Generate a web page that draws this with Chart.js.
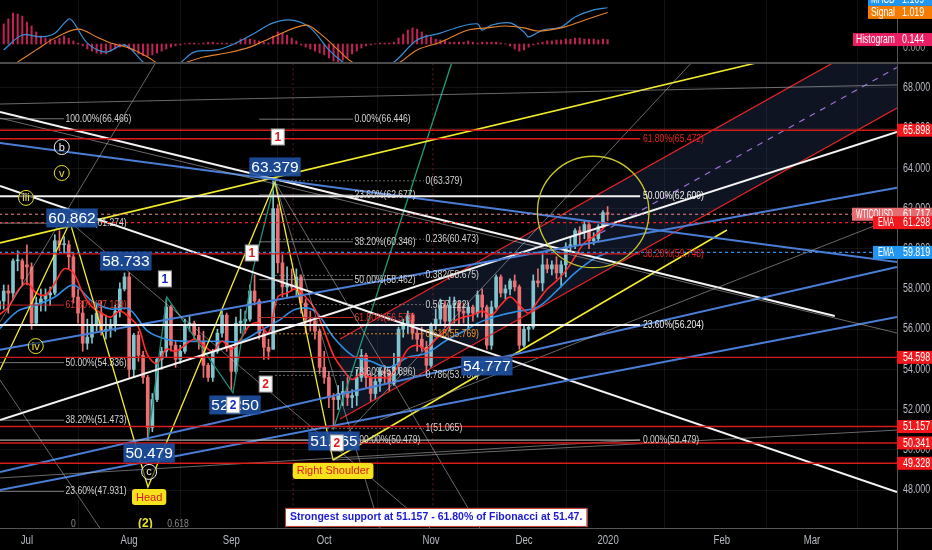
<!DOCTYPE html>
<html>
<head>
<meta charset="utf-8">
<script src="https://cdn.jsdelivr.net/npm/chart.js@4.4.1/dist/chart.umd.min.js"></script>
<style>
html,body{margin:0;padding:0;background:#000;}
#wrap{position:relative;width:932px;height:550px;overflow:hidden;background:#000;}
#macdBox{position:absolute;left:0;top:0;width:932px;height:62px;}
#mainBox{position:absolute;left:0;top:62px;width:932px;height:488px;}
</style>
</head>
<body>
<div id="wrap">
  <div id="macdBox"><canvas id="macd"></canvas></div>
  <div id="mainBox"><canvas id="main"></canvas></div>
</div>
<script>
// ---- data (bar index 0 = 1 Jul 2019, trading days) ----
const firstBar = -6;
const opens  = [57.0,57.4,57.9,57.8,59.4,59.4, 59.2,59.1,56.3,57.3,57.5,57.7,57.8,60.4,60.2,60.2,59.6,57.6,56.8,55.3,55.6,56.2,56.8,55.9,56.0,56.2,56.9,58.0,
  58.6,54.0,55.7,54.7,53.6,51.1,52.5,54.5,54.9,57.1,55.2,54.5,54.9,56.2,56.3,55.7,55.4,54.2,53.6,54.9,55.8,56.7,
  55.1,53.9,56.3,56.4,56.5,57.9,57.4,55.8,55.1,55.0,62.0,59.3,58.1,58.2,58.1,58.6,57.3,56.5,56.4,55.9,
  54.1,53.6,52.6,52.5,52.8,52.9,52.6,52.7,53.6,54.7,53.6,52.8,53.4,53.9,53.8,53.3,54.2,56.0,56.2,56.7,55.8,55.5,55.1,
  54.2,56.2,56.5,57.2,56.4,57.2,57.3,56.9,56.8,57.1,56.8,57.7,57.1,55.2,57.1,58.6,57.8,58.0,58.4,58.1,
  55.2,56.0,56.1,58.4,58.3,59.2,59.0,59.2,58.8,59.2,60.1,60.2,60.9,60.8,61.2,60.4,60.5,61.1,61.8];
const highs  = [57.8,58.2,58.2,59.5,59.9,59.5, 60.2,59.3,57.6,58.0,58.0,58.1,60.7,60.9,60.6,60.4,59.8,58.0,57.4,56.5,56.7,57.3,57.4,56.7,56.5,57.2,58.3,58.8,
  58.8,55.8,55.9,54.9,53.7,52.8,54.6,55.1,57.5,57.2,55.4,55.2,56.5,56.7,56.4,56.1,55.9,54.3,55.0,56.0,56.9,56.8,
  55.2,56.6,57.0,56.9,58.2,58.7,57.5,56.0,55.5,63.379,62.2,59.7,59.1,59.0,59.0,58.7,57.5,56.9,56.6,56.0,
  54.9,53.9,52.8,53.2,53.4,53.6,53.0,54.0,55.0,54.8,53.8,53.7,54.1,54.2,54.0,54.8,56.1,56.5,56.9,56.8,56.0,56.1,55.4,
  56.3,57.0,57.5,57.4,57.6,57.6,57.4,57.3,57.3,57.2,57.9,58.0,57.2,57.4,58.7,58.7,58.2,58.5,58.7,58.2,
  56.2,56.2,58.7,59.0,59.8,59.5,59.4,59.6,59.4,60.3,60.6,61.0,61.1,61.4,61.4,60.8,61.2,61.9,62.1];
const lows   = [56.6,57.0,56.8,57.5,58.9,58.2, 58.2,56.0,56.2,56.9,56.9,57.2,57.7,59.9,59.8,59.0,57.3,56.3,54.9,55.0,55.3,55.9,55.7,55.5,55.6,55.9,56.6,57.9,
  53.6,53.6,54.4,53.3,50.48,50.9,52.4,54.0,54.6,54.9,54.1,54.3,54.8,55.9,55.5,55.0,53.6,53.4,53.4,54.8,55.6,54.9,
  53.0,53.8,55.8,55.8,56.4,57.2,55.5,54.5,54.5,55.0,58.8,57.6,57.6,57.9,57.6,56.8,55.8,55.9,55.5,53.8,
  53.3,52.1,51.065,52.0,52.2,52.2,52.1,52.2,53.4,53.1,52.4,52.5,52.9,53.3,52.9,53.2,53.8,55.6,55.8,55.5,54.9,54.9,53.7,
  54.1,56.0,56.2,56.1,55.9,56.3,56.2,56.3,56.0,56.4,56.6,56.6,55.0,55.0,57.0,57.6,57.5,57.7,57.9,55.0,
  55.1,55.4,56.0,58.1,57.9,58.8,58.7,58.5,58.1,58.6,59.9,60.0,60.2,60.5,60.0,60.2,60.4,61.0,61.4];
const closes = [57.4,57.9,57.8,59.4,59.4,58.5, 59.1,56.3,57.3,57.5,57.7,57.8,60.4,60.2,60.25,59.6,57.6,56.8,55.3,55.6,56.2,56.8,55.9,56.0,56.2,56.9,58.0,58.6,
  54.0,55.7,54.7,53.6,51.1,52.5,54.5,54.9,57.1,55.2,54.5,54.9,56.2,56.3,55.7,55.4,54.2,53.6,54.9,55.8,56.7,55.1,
  53.9,56.3,56.4,56.5,57.9,57.4,55.8,55.1,54.9,62.0,59.3,58.1,58.2,58.1,58.6,57.3,56.5,56.4,55.9,54.1,
  53.6,52.6,52.5,52.8,52.9,52.6,52.7,53.6,54.7,53.6,52.8,53.4,53.9,53.8,53.3,54.2,56.0,56.2,56.7,55.8,55.5,55.1,54.2,
  56.2,56.5,57.2,56.4,57.2,57.3,56.9,56.8,57.1,56.8,57.7,57.1,55.2,57.1,58.6,57.8,58.0,58.4,58.1,55.2,
  56.0,56.1,58.4,58.3,59.2,59.0,59.2,58.8,59.2,60.1,60.2,60.9,60.8,61.2,60.4,60.5,61.1,61.8,61.717];

const emaFastX = [-6,-4,-2,0,2,4,6,8,10,12,14,16,18,20,22,24,26,28,30,32,34,36,38,40,42,44,46,48,50,52,54,56,58,60,62,64,66,68,70,72,74,76,78,80,82,84,86,88,90,92,94,96,98,100,102,104,106,108,110,112,114,116,118,120,122,124,125];
const emaFastY = [56.7,57.1,57.9,58.3,57.8,57.7,58.3,59.0,58.8,57.8,57.1,56.8,56.6,56.9,56.6,56.1,54.7,54.3,55.0,54.9,55.2,55.5,55.2,54.9,55.4,55.0,55.5,56.2,56.3,55.8,57.6,57.8,58.0,57.6,57.0,55.9,54.7,54.0,53.5,53.8,53.6,53.6,53.6,54.2,55.0,55.2,55.0,55.5,55.9,56.4,56.6,56.7,56.9,56.7,57.2,57.6,57.2,56.8,57.4,58.0,58.4,58.9,59.6,60.3,60.6,61.0,61.298];
const emaSlowX = [-6,-2,2,6,10,14,18,22,26,30,34,38,42,46,50,54,58,62,66,70,74,78,82,86,90,94,98,102,106,110,114,118,122,125];
const emaSlowY = [56.0,56.9,57.2,57.6,58.2,57.4,57.0,57.0,55.9,55.5,55.4,55.4,55.4,55.4,55.9,56.4,57.0,56.9,55.6,54.7,54.4,54.1,54.6,54.8,55.4,55.9,56.4,56.7,56.9,57.1,57.9,58.8,59.5,59.819];

const macdHist = [0.55,0.65,0.81,1.0,0.97,0.9, 0.71,0.58,0.39,0.26,0.19,0.16,0.13,0.19,0.26,0.19,0.1,0.03,-0.06,-0.16,-0.23,-0.29,-0.32,-0.32,-0.23,-0.16,-0.1,-0.06,
  -0.16,-0.23,-0.32,-0.37,-0.39,-0.35,-0.29,-0.23,-0.16,-0.1,-0.06,-0.03,0.01,0.03,0.03,0.01,0.03,0.06,0.06,0.03,0.03,0.03,
  0.01,0.03,0.16,0.19,0.16,0.13,0.1,0.06,0.03,0.26,0.39,0.35,0.29,0.19,0.1,-0.03,-0.1,-0.16,-0.23,-0.29,
  -0.35,-0.45,-0.55,-0.58,-0.52,-0.45,-0.32,-0.23,-0.13,-0.06,-0.03,0.01,0.03,0.03,0.03,0.06,0.19,0.32,0.45,0.52,0.48,0.39,0.29,
  0.23,0.16,0.13,0.1,0.06,0.06,0.06,0.06,0.1,0.06,0.03,0.06,0.06,0.06,0.06,0.03,0.01,-0.06,-0.16,-0.23,
  -0.19,-0.1,-0.03,0.03,0.06,0.1,0.1,0.13,0.13,0.16,0.16,0.19,0.19,0.16,0.16,0.16,0.13,0.16,0.144];
const macdX = [-5,-1,3,6,9,10,13,17,21,25,29,33,36,41,45,49,53,57,61,65,68,73,79,84,89,93,97,98,100,104,107,108,111,115,118,122,125];
const macdY = [-0.19,0.29,0.23,0.35,0.81,0.71,0.03,-0.26,-0.03,-0.58,-1.0,-0.61,-0.26,-0.19,0.03,0.35,0.68,0.77,0.52,-0.19,-0.58,-1.0,-0.58,0.13,0.35,0.55,0.65,0.45,0.61,0.68,0.39,0.23,0.45,0.55,0.87,1.1,1.169];
const signalX = [-2,2,6,11,15,18,22,26,28,31,34,38,43,48,53,60,63,67,70,75,80,84,89,95,99,103,107,110,115,120,125];
const signalY = [-0.58,-0.19,0.19,0.48,0.23,0.03,-0.13,-0.42,-0.61,-0.8,-0.61,-0.42,-0.29,-0.1,0.23,0.61,0.35,-0.19,-0.58,-0.85,-0.61,-0.19,0.06,0.45,0.52,0.58,0.52,0.42,0.52,0.77,1.019];

const monthTicks  = [0,22,44,64,87,107,125.1,149.6,169];
const monthLabels = ['Jul','Aug','Sep','Oct','Nov','Dec','2020','Feb','Mar'];
const priceTicks  = [48,50,52,54,56,58,60,62,64,66,68];

// drawings, in (bar index, price)
const whiteLines  = [[[-5.8,66.81],[173.9,56.66]], [[-5.8,63.12],[187.3,47.9]], [[-5.8,51.48],[187.3,65.81]]];
const blueLines   = [[[-5.8,65.26],[187.3,59.34]], [[-5.8,54.97],[187.3,63.03]], [[-5.8,48.90],[187.3,59.09]], [[-5.8,48.0],[187.3,56.61]]];
const yellowLines = [[[-5.8,60.29],[157.8,69.29]], [[65.9,49.49],[150.7,60.93]]];
const yellowZigzag = [[-5.8,53.97],[9.26,61.33],[26.05,48.15],[53.4,63.32],[65.9,49.49]];
const tealZigzag  = [[26.05,50.49],[30.1,57.6],[44.35,52.83],[48.65,58.95],[53.4,63.32]];
const greenRay    = [[65.9,50.99],[91.5,69.29]];
const greyLines   = [[[-5.8,67.2],[187.3,68.15]], [[-5.8,66.5],[187.3,55.81]], [[-5.8,56.36],[27.8,69.29]],
  [[65.9,50.09],[143.2,69.29]], [[76,51.48],[187.3,61.58]], [[53.4,63.32],[76,46.11]], [[53.4,63.32],[97.5,46.11]],
  [[9.26,61.33],[86.8,46.11]], [[-5.8,48.6],[132,50.49]], [[-5.8,53.47],[15.7,46.11]], [[65.9,49.49],[187.3,50.98]]];
const redVerticals = [57.3, 87.4];
const channelUpper = [[67.4,55.51],[187.3,71.03]];
const channelLower = [[67.4,51.53],[187.3,67.0]];
const channelMid   = [[123.4,60.77],[187.3,69.02]];

const redLevels = [65.898, 54.598, 51.157, 50.341, 49.328];
const lastPrice = 61.717;
const emaFastLast = 61.298;
const emaSlowLast = 59.819;

const fibALevels = [66.466,61.274,57.199,54.336,51.473,47.931];
const fibAText = ['100.00%(66.466)','78.60%(61.274)','61.80%(57.199)','50.00%(54.336)','38.20%(51.473)','23.60%(47.931)'];
const fibASpan = [-5.8, 8.0];
const fibBLevels = [66.446,62.677,60.346,58.462,56.579,53.896,50.479];
const fibBText = ['0.00%(66.446)','23.60%(62.677)','38.20%(60.346)','50.00%(58.462)','61.80%(56.579)','78.60%(53.896)','100.00%(50.479)'];
const fibBSpan = [50, 70.2];
const fibCLevels = [63.379,60.473,58.675,57.222,55.769,53.700,51.065];
const fibCText = ['0(63.379)','0.236(60.473)','0.382(58.675)','0.5(57.222)','0.618(55.769)','0.786(53.700)','1(51.065)'];
const fibCSpan = [53.4, 85.5];
const fibDLevels = [65.472,62.609,59.748,56.204,50.479];
const fibDText = ['61.80%(65.472)','50.00%(62.609)','38.20%(59.748)','23.60%(56.204)','0.00%(50.479)'];
const fibDSpan = [-5.8, 132.0];

const tagText = ['63.379','60.862','58.733','52.250','50.479','51.065','54.777'];
const tagX = [53.4, 9.7, 21.3, 44.8, 26.3, 66.1, 99.0];
const tagY = [64.07, 61.53, 59.39, 52.23, 49.84, 50.44, 54.17];

const waveText = ['b','v','iii','iv','c'];
const waveX = [7.5, 7.5, -0.2, 1.9, 26.3];
const waveY = [65.06, 63.77, 62.53, 55.16, 48.9];

const numText = ['1','1','1','2','2','2'];
const numX = [54.0, 48.4, 29.7, 51.4, 44.4, 66.7];
const numY = [65.56, 59.79, 58.5, 53.27, 52.23, 50.34];

const patternText = ['Head','Right Shoulder'];
const patternX = [26.3, 65.9];
const patternY = [47.65, 48.95];

const noteText = 'Strongest support at 51.157 - 61.80% of Fibonacci at 51.47.';
const noteAt = [88.1, 46.66];
const circleCenter = [121.9, 61.83];
const circleEdge = [133.9, 61.83];
const bottomText = ['0','(2)','0.618'];
const bottomX = [9.5, 23.9, 30.2];
const bottomY = 46.32;

const macdLast = 1.169, signalLast = 1.019, histLast = 0.144;

// ---- styles ----
const SANS = "'Liberation Sans',Arial,sans-serif";
const NARROW_X = 0.78;   // horizontal squeeze to mimic the narrow chart font
const UP = '#80c4cd', DOWN = '#ec6f72';
const GRID = 'rgba(255,255,255,0.07)';
const AXIS_TXT = '#b8bcc4';

function seg(pts, color, width, dash, order) {
  return {type:'line', data: pts.map(p => ({x:p[0], y:p[1]})), borderColor: color, borderWidth: width,
    borderDash: dash || [], pointRadius: 0, fill: false, tension: 0, order: order || 5};
}
function hline(v, from, to, color, width, dash, order) {
  return seg([[from, v], [to, v]], color, width, dash, order);
}
function candleColor(ctx) {
  const k = ctx.dataIndex;
  return closes[k] >= opens[k] ? UP : DOWN;
}

const wickData = highs.map((h, k) => ({x: firstBar + k, y: [lows[k], h]}));
const bodyData = opens.map((o, k) => ({x: firstBar + k, y: [Math.min(o, closes[k]), Math.max(o, closes[k])]}));

const ds = [];
// channel fill (under everything)
ds.push({type:'line', data: channelUpper.map(p => ({x:p[0], y:p[1]})), borderColor:'rgba(0,0,0,0)', borderWidth:0,
  pointRadius:0, fill:'+1', backgroundColor:'rgba(44,60,100,0.33)', order:50});
ds.push({type:'line', data: channelLower.map(p => ({x:p[0], y:p[1]})), borderColor:'rgba(0,0,0,0)', borderWidth:0,
  pointRadius:0, fill:false, order:50});

// candles
ds.push({type:'bar', data: wickData, backgroundColor: candleColor, barThickness: 1, grouped: false, order: 30});
ds.push({type:'bar', data: bodyData, backgroundColor: candleColor, barThickness: 3, minBarLength: 1, grouped: false, order: 29});

// EMAs
ds.push({type:'line', data: emaFastX.map((x, k) => ({x, y: emaFastY[k]})), borderColor:'#ff2d2d', borderWidth:1.6,
  pointRadius:0, tension:0.35, fill:false, order:20});
ds.push({type:'line', data: emaSlowX.map((x, k) => ({x, y: emaSlowY[k]})), borderColor:'#2e8fe6', borderWidth:1.6,
  pointRadius:0, tension:0.35, fill:false, order:20});

redVerticals.forEach(v => ds.push(seg([[v, 46], [v, 70]], 'rgba(230,60,60,0.45)', 1, [2, 3], 25)));

// fib levels
fibALevels.forEach((v, k) => ds.push(hline(v, fibASpan[0], fibASpan[1], k === 2 ? '#c62828' : 'rgba(170,170,170,0.7)', 1)));
fibBLevels.forEach((v, k) => ds.push(hline(v, fibBSpan[0], fibBSpan[1], k === 4 ? '#c62828' : 'rgba(170,170,170,0.7)', 1)));
fibCLevels.forEach((v, k) => ds.push(hline(v, fibCSpan[0], fibCSpan[1], k === 4 ? '#e08a1e' : 'rgba(170,170,170,0.6)', 1, [2, 2])));
const fibDColors = ['#e0191c', '#f2f2f2', '#e0191c', '#f2f2f2', 'rgba(200,200,200,0.8)'];
fibDLevels.forEach((v, k) => ds.push(hline(v, fibDSpan[0], fibDSpan[1], fibDColors[k], k === 1 || k === 3 ? 2 : 1.3)));

// full width levels
redLevels.forEach(v => ds.push(hline(v, -6, 188, '#d81b1b', 1.4)));
ds.push(hline(lastPrice, -6, 188, '#ef8a8a', 1.2, [3, 3]));
ds.push(hline(emaFastLast, -6, 188, '#f02020', 1.2, [3, 3]));
ds.push(hline(emaSlowLast, -6, 188, '#2e8fe6', 1.2, [3, 3]));

// diagonal drawings
greyLines.forEach(p => ds.push(seg(p, 'rgba(190,190,190,0.55)', 1)));
blueLines.forEach(p => ds.push(seg(p, '#4a7ed6', 2)));
whiteLines.forEach(p => ds.push(seg(p, '#f4f4f4', 2)));
yellowLines.forEach(p => ds.push(seg(p, '#f2ec2c', 1.6)));
ds.push(seg(yellowZigzag, '#f2ec2c', 1.3));
ds.push(seg(tealZigzag, '#1f8f74', 1.3));
ds.push(seg(greenRay, '#1f9e7c', 1.3));
ds.push(seg(channelUpper, '#e02424', 1.3));
ds.push(seg(channelLower, '#e02424', 1.3));
ds.push(seg(channelMid, '#9c6fd6', 1.2, [6, 6]));

function px(chart, i, v) {
  return [chart.scales.x.getPixelForValue(i), chart.scales.y.getPixelForValue(v)];
}
// text; sx < 1 squeezes it horizontally, maxW caps its width
function txt(ctx, s, x, y, color, font, align, sx, maxW) {
  ctx.save();
  ctx.font = font; ctx.fillStyle = color; ctx.textAlign = align || 'left'; ctx.textBaseline = 'middle';
  ctx.translate(x, y); ctx.scale(sx || 1, 1);
  if (maxW) ctx.fillText(s, 0, 0, maxW / (sx || 1)); else ctx.fillText(s, 0, 0);
  ctx.restore();
}
function roundRect(ctx, x, y, w, h, r) {
  ctx.beginPath();
  ctx.moveTo(x + r, y); ctx.lineTo(x + w - r, y); ctx.quadraticCurveTo(x + w, y, x + w, y + r);
  ctx.lineTo(x + w, y + h - r); ctx.quadraticCurveTo(x + w, y + h, x + w - r, y + h);
  ctx.lineTo(x + r, y + h); ctx.quadraticCurveTo(x, y + h, x, y + h - r);
  ctx.lineTo(x, y + r); ctx.quadraticCurveTo(x, y, x + r, y); ctx.closePath();
}

const drawings = {
  id: 'drawings',
  afterDatasetsDraw(chart) {
    const ctx = chart.ctx, a = chart.chartArea;
    ctx.save();
    ctx.beginPath(); ctx.rect(a.left, a.top, a.right - a.left, a.bottom - a.top); ctx.clip();

    // yellow circle
    const c = px(chart, circleCenter[0], circleCenter[1]);
    const e = px(chart, circleEdge[0], circleEdge[1]);
    ctx.beginPath(); ctx.arc(c[0], c[1], e[0] - c[0], 0, Math.PI * 2);
    ctx.strokeStyle = '#c9c92a'; ctx.lineWidth = 1.3; ctx.stroke();

    // fib labels
    const f11 = `11px ${SANS}`;
    fibAText.forEach((s, k) => { const p = px(chart, fibASpan[1] + 0.3, fibALevels[k]); txt(ctx, s, p[0], p[1], k === 2 ? '#e53935' : '#d4d4d4', f11, 'left', NARROW_X); });
    fibBText.forEach((s, k) => { const p = px(chart, fibBSpan[1] + 0.3, fibBLevels[k]); txt(ctx, s, p[0], p[1], k === 4 ? '#e53935' : '#d4d4d4', f11, 'left', NARROW_X); });
    fibCText.forEach((s, k) => { const p = px(chart, fibCSpan[1] + 0.3, fibCLevels[k]); txt(ctx, s, p[0], p[1], k === 4 ? '#f29a2e' : '#d4d4d4', f11, 'left', NARROW_X); });
    const fibDTxt = ['#ee2222', '#f2f2f2', '#ee2222', '#f2f2f2', '#d4d4d4'];
    fibDText.forEach((s, k) => { const p = px(chart, fibDSpan[1] + 0.6, fibDLevels[k]); txt(ctx, s, p[0], p[1], fibDTxt[k], f11, 'left', NARROW_X); });

    // blue price tags
    tagText.forEach((s, k) => {
      const p = px(chart, tagX[k], tagY[k]);
      ctx.font = `15.5px ${SANS}`;
      const w = ctx.measureText(s).width + 4;
      ctx.fillStyle = 'rgba(28,78,158,0.92)';
      ctx.fillRect(p[0] - w / 2, p[1] - 9.5, w, 19);
      txt(ctx, s, p[0], p[1] + 1, '#ffffff', `15.5px ${SANS}`, 'center');
    });

    // wave circles
    const waveColor = ['#f0f0f0', '#e8e22a', '#e8e22a', '#e8e22a', '#f0f0f0'];
    waveText.forEach((s, k) => {
      const p = px(chart, waveX[k], waveY[k]);
      ctx.beginPath(); ctx.arc(p[0], p[1], 7.5, 0, Math.PI * 2);
      ctx.fillStyle = 'rgba(0,0,0,0.55)'; ctx.fill();
      ctx.strokeStyle = waveColor[k]; ctx.lineWidth = 1; ctx.stroke();
      txt(ctx, s, p[0], p[1] + 0.5, waveColor[k], `11px ${SANS}`, 'center');
    });

    // number boxes
    const numColor = ['#e0191c', '#e0191c', '#1a23c8', '#e0191c', '#1a23c8', '#e0191c'];
    numText.forEach((s, k) => {
      const p = px(chart, numX[k], numY[k]);
      ctx.fillStyle = '#ffffff'; ctx.fillRect(p[0] - 6.5, p[1] - 8, 13, 16);
      ctx.strokeStyle = '#999'; ctx.lineWidth = 1; ctx.strokeRect(p[0] - 6.5, p[1] - 8, 13, 16);
      txt(ctx, s, p[0], p[1] + 1, numColor[k], `bold 12px ${SANS}`, 'center');
    });

    // pattern boxes
    patternText.forEach((s, k) => {
      const p = px(chart, patternX[k], patternY[k]);
      ctx.font = `11px ${SANS}`;
      const w = ctx.measureText(s).width + 8;
      roundRect(ctx, p[0] - w / 2, p[1] - 8, w, 16, 3);
      ctx.fillStyle = '#f5e21c'; ctx.fill();
      txt(ctx, s, p[0], p[1] + 0.5, '#e0191c', `11px ${SANS}`, 'center');
    });

    // bottom small texts
    bottomText.forEach((s, k) => {
      const p = px(chart, bottomX[k], bottomY);
      txt(ctx, s, p[0], p[1], k === 1 ? '#e8e22a' : '#888888', k === 1 ? `bold 12px ${SANS}` : `11px ${SANS}`, 'left', k === 1 ? 1 : NARROW_X);
    });

    // note box
    const n = px(chart, noteAt[0], noteAt[1]);
    ctx.font = `bold 10.5px ${SANS}`;
    const nw = ctx.measureText(noteText).width + 10;
    ctx.fillStyle = '#ffffff'; ctx.fillRect(n[0] - nw / 2, n[1] - 9, nw, 19);
    ctx.strokeStyle = '#c0392b'; ctx.lineWidth = 1; ctx.strokeRect(n[0] - nw / 2 + 0.5, n[1] - 8.5, nw - 1, 18);
    txt(ctx, noteText, n[0], n[1] + 0.5, '#1b1bd6', `bold 10.5px ${SANS}`, 'center');

    ctx.restore();
  },
  afterDraw(chart) {
    const ctx = chart.ctx, a = chart.chartArea, x = chart.scales.x, y = chart.scales.y;
    const W = chart.width, H = chart.height;
    ctx.save();
    // pane separator and axis frame
    ctx.strokeStyle = '#4a4a4a'; ctx.lineWidth = 2;
    ctx.beginPath(); ctx.moveTo(0, 1); ctx.lineTo(W, 1); ctx.stroke();
    ctx.strokeStyle = '#555'; ctx.lineWidth = 1;
    ctx.beginPath(); ctx.moveTo(0, a.bottom + 0.5); ctx.lineTo(W, a.bottom + 0.5); ctx.stroke();
    ctx.beginPath(); ctx.moveTo(a.right + 0.5, 0); ctx.lineTo(a.right + 0.5, H); ctx.stroke();

    const f12 = `12px ${SANS}`;
    // axis tick labels
    y.ticks.forEach(t => txt(ctx, t.value.toFixed(3), a.right + 6, y.getPixelForValue(t.value), AXIS_TXT, f12, 'left', 0.74));
    x.ticks.forEach((t, k) => txt(ctx, monthLabels[k], x.getPixelForValue(t.value), a.bottom + 13, AXIS_TXT, f12, 'center', 0.8));

    function box(x0, v, w, fill, parts) {
      const yc = y.getPixelForValue(v);
      ctx.fillStyle = fill; ctx.fillRect(x0, yc - 6.5, w, 13);
      parts.forEach(p => txt(ctx, p[0], p[1], yc + 0.5, '#ffffff', f12, 'left', 0.74, p[2]));
    }
    const r = a.right;
    redLevels.forEach(v => box(r, v, W - r, '#f2171b', [[v.toFixed(3), r + 6]]));
    box(r - 45, lastPrice, W - r + 45, '#e66c70', [['WTICOUSD', r - 41, 37], [lastPrice.toFixed(3), r + 6]]);
    box(r - 24, emaFastLast, W - r + 24, '#f2171b', [['EMA', r - 19, 16], [emaFastLast.toFixed(3), r + 6]]);
    box(r - 24, emaSlowLast, W - r + 24, '#2196f3', [['EMA', r - 19, 16], [emaSlowLast.toFixed(3), r + 6]]);
    ctx.restore();
  }
};

new Chart(document.getElementById('main'), {
  type: 'bar',
  data: {datasets: ds},
  options: {
    responsive: true, maintainAspectRatio: false, animation: false, events: [],
    layout: {padding: 0},
    plugins: {legend: {display: false}, tooltip: {enabled: false}},
    scales: {
      x: {
        type: 'linear', min: -5.8, max: 187.3, offset: false,
        afterBuildTicks: s => { s.ticks = monthTicks.map(v => ({value: v})); },
        afterFit: s => { s.height = 22; },
        ticks: {display: false},
        grid: {color: GRID, drawTicks: false},
        border: {display: false}
      },
      y: {
        type: 'linear', position: 'right', min: 46.11, max: 69.29,
        afterBuildTicks: s => { s.ticks = priceTicks.map(v => ({value: v})); },
        afterFit: s => { s.width = 35; },
        ticks: {display: false},
        grid: {color: GRID, drawTicks: false},
        border: {display: false}
      }
    }
  },
  plugins: [drawings]
});

// ---- MACD pane ----
const macdLabels = {
  id: 'macdLabels',
  afterDraw(chart) {
    const ctx = chart.ctx, a = chart.chartArea, y = chart.scales.y, W = chart.width;
    ctx.save();
    ctx.strokeStyle = '#555'; ctx.lineWidth = 1;
    ctx.beginPath(); ctx.moveTo(a.right + 0.5, 0); ctx.lineTo(a.right + 0.5, chart.height); ctx.stroke();
    const f12 = `12px ${SANS}`;
    const r = a.right;
    txt(ctx, '0.000', r + 6, y.getPixelForValue(0) + 4, '#9a9a9a', f12, 'left', 0.74);
    const ys = y.getPixelForValue(signalLast);
    function box(x0, yc, fill, label, val) {
      ctx.fillStyle = fill; ctx.fillRect(x0, yc - 6.5, W - x0, 13);
      txt(ctx, label, x0 + 3, yc + 0.5, '#ffffff', f12, 'left', 0.74, r - x0 - 5);
      txt(ctx, val, r + 5, yc + 0.5, '#ffffff', f12, 'left', 0.74);
    }
    box(r - 29, ys - 13, '#2196f3', 'MACD', macdLast.toFixed(3));
    box(r - 29, ys, '#f57c00', 'Signal', signalLast.toFixed(3));
    box(r - 44, y.getPixelForValue(histLast), '#e91e63', 'Histogram', histLast.toFixed(3));
    ctx.restore();
  }
};

new Chart(document.getElementById('macd'), {
  type: 'bar',
  data: {datasets: [
    {type: 'bar', data: macdHist.map((v, k) => ({x: firstBar + k, y: v})), backgroundColor: 'rgba(226,40,100,0.85)', barThickness: 1.4, order: 3},
    {type: 'line', data: macdX.map((x, k) => ({x, y: macdY[k]})), borderColor: '#3a8fd6', borderWidth: 1.2, pointRadius: 0, tension: 0.35, order: 2},
    {type: 'line', data: signalX.map((x, k) => ({x, y: signalY[k]})), borderColor: '#e8832a', borderWidth: 1.1, pointRadius: 0, tension: 0.35, order: 1}
  ]},
  options: {
    responsive: true, maintainAspectRatio: false, animation: false, events: [],
    layout: {padding: 0},
    plugins: {legend: {display: false}, tooltip: {enabled: false}},
    scales: {
      x: {
        type: 'linear', min: -5.8, max: 187.3, offset: false,
        afterBuildTicks: s => { s.ticks = monthTicks.map(v => ({value: v})); },
        afterFit: s => { s.height = 0; },
        ticks: {display: false},
        grid: {color: GRID, drawTicks: false},
        border: {display: false}
      },
      y: {
        type: 'linear', position: 'right', min: -0.58, max: 1.42,
        afterFit: s => { s.width = 35; },
        ticks: {display: false},
        grid: {display: false},
        border: {display: false}
      }
    }
  },
  plugins: [macdLabels]
});
</script>
</body>
</html>
